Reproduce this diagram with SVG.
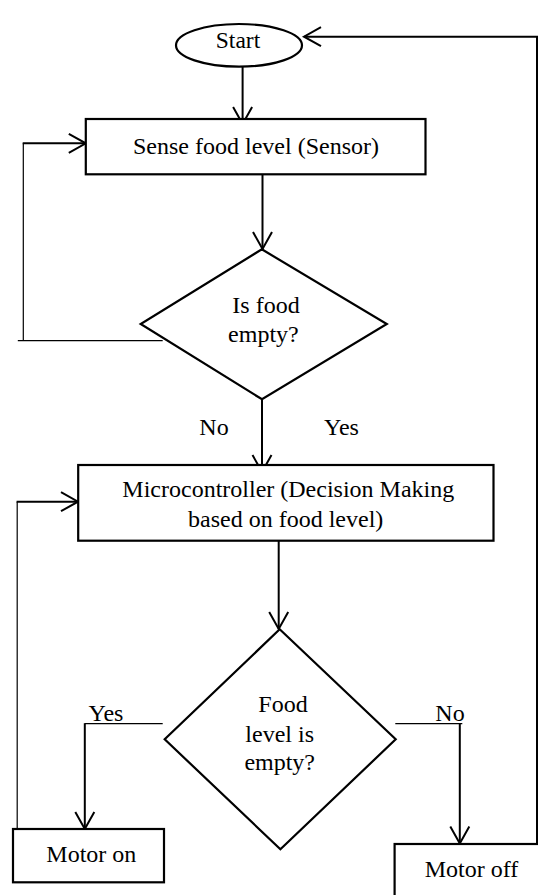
<svg xmlns="http://www.w3.org/2000/svg" width="538" height="895" viewBox="0 0 538 895">
  <style>
    .shape { fill: #ffffff; stroke: #000000; stroke-width: 2.2; }
    .thick { fill: none; stroke: #000000; stroke-width: 2; }
    .thin { fill: none; stroke: #000000; stroke-width: 1.2; }
    text { font-family: "Liberation Serif", "Times New Roman", serif; font-size: 24px; fill: #000000; text-anchor: middle; }
  </style>
  <defs>
    <marker id="arrow" markerUnits="userSpaceOnUse" markerWidth="24" markerHeight="24" viewBox="-20 -12 22 24" refX="0" refY="0" orient="auto">
      <path d="M-17,-9.5 L0,0 L-17,9.5" fill="none" stroke="#000000" stroke-width="2"/>
    </marker>
  </defs>
  <rect x="0" y="0" width="538" height="895" fill="#ffffff"/>

  <g id="connectors">
    <line class="thick" x1="242.6" y1="67" x2="242.6" y2="124" marker-end="url(#arrow)"/>
    <line class="thick" x1="262.5" y1="174" x2="262.5" y2="249" marker-end="url(#arrow)"/>
    <polyline class="thin" points="17.8,340.7 162.7,340.7"/>
    <polyline class="thin" points="23.3,340.7 23.3,143.3"/>
    <line class="thick" x1="22.7" y1="143.3" x2="85.8" y2="143.3" marker-end="url(#arrow)"/>
    <line class="thick" x1="262" y1="390" x2="262" y2="472" marker-end="url(#arrow)"/>
    <line class="thin" x1="17.2" y1="829" x2="17.2" y2="501.7"/>
    <line class="thick" x1="16.6" y1="501.7" x2="78" y2="501.7" marker-end="url(#arrow)"/>
    <line class="thick" x1="278.7" y1="541" x2="278.7" y2="629" marker-end="url(#arrow)"/>
    <line class="thin" x1="162.7" y1="723.7" x2="84.8" y2="723.7"/>
    <line class="thick" x1="84.8" y1="723.2" x2="84.8" y2="829" marker-end="url(#arrow)"/>
    <line class="thin" x1="395.3" y1="723.7" x2="462.3" y2="723.7"/>
    <line class="thick" x1="459.8" y1="723.2" x2="459.8" y2="843.5" marker-end="url(#arrow)"/>
    <polyline class="thick" points="537,844 537,36.7 304,36.7" marker-end="url(#arrow)"/>
    <text x="214" y="435">No</text>
    <text x="341.5" y="435">Yes</text>
    <text x="106" y="720.7">Yes</text>
    <text x="450" y="720.7">No</text>
  </g>

  <g id="start">
    <ellipse class="shape" cx="239" cy="45.3" rx="63" ry="21.3"/>
    <text x="238" y="47.7" style="font-size:23.5px">Start</text>
  </g>

  <g id="sense">
    <rect class="shape" x="85.8" y="119" width="339.7" height="55.3"/>
    <text x="256" y="154">Sense food level (Sensor)</text>
  </g>

  <g id="decision1">
    <polygon class="shape" points="261.8,249.3 386.8,324 262,399.3 140.7,324"/>
    <text x="266" y="313.3">Is food</text>
    <text x="263.4" y="342">empty?</text>
  </g>

  <g id="microcontroller">
    <rect class="shape" x="78.2" y="465" width="415.3" height="75.7"/>
    <text x="288.3" y="497.3">Microcontroller (Decision Making</text>
    <text x="285.7" y="526.7">based on food level)</text>
  </g>

  <g id="decision2">
    <polygon class="shape" points="279.7,629.3 395.7,739.3 280.4,849.3 164.7,739.3"/>
    <text x="283" y="711.7">Food</text>
    <text x="279.7" y="741.7">level is</text>
    <text x="279.7" y="770">empty?</text>
  </g>

  <g id="motor-on">
    <rect class="shape" x="13" y="829" width="151" height="53.3"/>
    <text x="91.3" y="862">Motor on</text>
  </g>

  <g id="motor-off">
    <rect class="shape" x="394.6" y="844" width="160" height="70"/>
    <text x="471.5" y="877">Motor off</text>
  </g>
</svg>
